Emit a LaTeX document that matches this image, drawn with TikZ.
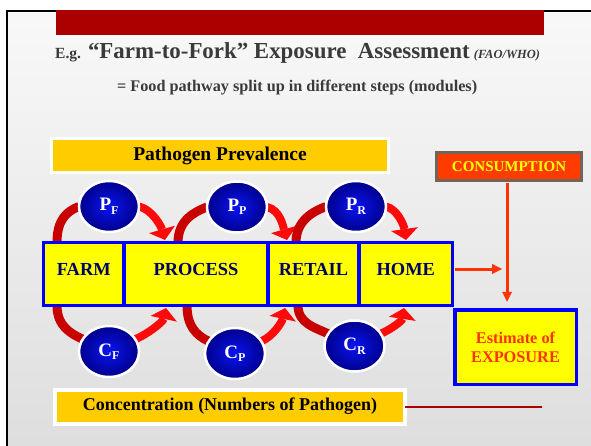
\documentclass[tikz,border=0pt]{standalone}
\usepackage{fontspec}
\setmainfont{Liberation Serif}
\usetikzlibrary{shapes.geometric,arrows.meta}

\definecolor{barred}{HTML}{AA0000}
\definecolor{titlegray}{HTML}{3A3A3A}
\definecolor{boxblue}{HTML}{0000FF}
\definecolor{boxyellow}{HTML}{FFFF00}
\definecolor{bandorange}{HTML}{FFCC00}
\definecolor{stepnavy}{HTML}{000066}
\definecolor{tailred}{HTML}{C80000}
\definecolor{headred}{HTML}{FF0A0A}
\definecolor{flowred}{HTML}{FF3300}
\definecolor{consfill}{HTML}{FF3C00}
\definecolor{consframe}{HTML}{766358}
\definecolor{ballin}{HTML}{0A14F0}
\definecolor{ballout}{HTML}{00008C}

\newcommand\setfs[1]{\fontsize{#1}{#1}\selectfont}
\newcommand\ballabel[2]{{\setfs{19}#1}{\setfs{12}\raisebox{-3.5pt}{#2}}}

\pgfdeclarelayer{back}
\pgfsetlayers{back,main}

\tikzset{
  stepbox/.style={draw=boxblue, line width=3.5pt, fill=boxyellow, inner sep=0pt,
    outer sep=0pt, minimum height=63pt, text depth=9pt, text=stepnavy,
    font=\bfseries\setfs{18.4}},
  band/.style={draw=white, line width=3.5pt, fill=bandorange, inner sep=0pt,
    outer sep=0pt, minimum height=34pt, font=\bfseries},
  ball/.style={ellipse, draw=white, line width=2.5pt, inner sep=0pt, outer sep=0pt,
    minimum width=60pt, minimum height=51pt, shading=radial, inner color=ballin,
    outer color=ballout, text=white, font=\bfseries},
  tailarc/.style={draw=tailred, line width=9pt},
  headarc/.style={draw=headred, line width=8pt,
    -{Triangle[length=11pt,width=27pt,line width=0pt]}},
  flow/.style={draw=flowred, line width=3pt,
    -{Triangle[length=10pt,width=10pt,line width=0pt]}},
}

\begin{document}
\begin{tikzpicture}[x=1pt,y=-1pt]
\useasboundingbox (0,0) rectangle (591,446);

% slide background, frame and header bar
\begin{pgfonlayer}{back}
  \fill[white] (0,0) rectangle (591,446);
  \shade[top color=gray!5, bottom color=gray!26] (7,11) rectangle (591,446);
  \draw[black, line width=2pt] (7,446) -- (7,11) -- (591,11);
  \fill[barred] (56,10) rectangle (544,35);
\end{pgfonlayer}

% headings
\node[anchor=base west, inner sep=0pt, text=titlegray, font=\bfseries] (title) at (55,59)
  {{\setfs{15.5}E.g.}\hspace{7pt}{\setfs{22.9}“Farm-to-Fork” Exposure\ \ Assessment}\hspace{4pt}{\setfs{12.5}\itshape(FAO/WHO)}};
\node[anchor=base west, inner sep=0pt, text=titlegray, font=\bfseries\setfs{16.2}] (subtitle) at (117,92)
  {= Food pathway split up in different steps (modules)};

% bands
\node[band, minimum width=337pt, font=\bfseries\setfs{19.5}] (prev) at (220,155.5) {Pathogen Prevalence};
\node[band, minimum width=350pt, text depth=6pt, font=\bfseries\setfs{18}] (conc) at (230,407) {Concentration (Numbers of Pathogen)};

% food pathway steps
\node[stepbox, minimum width=80.5pt] (farm) at (83.75,274) {FARM};
\node[stepbox, minimum width=144pt] (process) at (196,274) {PROCESS};
\node[stepbox, minimum width=91pt] (retail) at (313.5,274) {RETAIL};
\node[stepbox, minimum width=93.5pt] (home) at (405.75,274) {HOME};

% prevalence and concentration per module
\node[ball] (pf) at (109,206.5) {\ballabel{P}{F}};
\node[ball] (pp) at (237,207) {\ballabel{P}{P}};
\node[ball] (pr) at (356,206.5) {\ballabel{P}{R}};
\node[ball] (cf) at (109,351.5) {\ballabel{C}{F}};
\node[ball] (cp) at (235,353.5) {\ballabel{C}{P}};
\node[ball] (cr) at (354.5,346) {\ballabel{C}{R}};

% consumption and exposure
\node[draw=consframe, line width=3.5pt, fill=consfill, text=boxyellow, inner sep=0pt,
  outer sep=0pt, minimum width=145pt, minimum height=28pt, font=\bfseries\setfs{15}]
  (cons) at (509,166.5) {CONSUMPTION};
\node[draw=boxblue, line width=3.5pt, fill=boxyellow, text=flowred, inner sep=0pt,
  outer sep=0pt, minimum width=121.5pt, minimum height=74.5pt, align=center,
  font=\bfseries\setfs{16.3}] (expo) at (515.5,347)
  {Estimate of\\[2.5pt]EXPOSURE};

% module transitions (upper and lower)
\begin{pgfonlayer}{back}
  \draw[tailarc] ([xshift=13.5pt]farm.north west) .. controls +(0,-22) and +(-13,5) .. (pf.west);
  \draw[headarc] (pf.east) .. controls +(13,3) and +(-4,-14) .. ([shift={(41,-2.5)}]process.north west);
  \draw[tailarc] ([xshift=54pt]process.north west) .. controls +(0,-22) and +(-13,5) .. (pp.west);
  \draw[headarc] (pp.east) .. controls +(13,3) and +(-4,-14) .. ([shift={(19,-2.5)}]retail.north west);
  \draw[tailarc] ([xshift=28pt]retail.north west) .. controls +(0,-22) and +(-13,5) .. (pr.west);
  \draw[headarc] (pr.east) .. controls +(12,3) and +(-2,-14) .. ([shift={(47,-2.5)}]home.north west);

  \draw[tailarc] ([xshift=13.5pt]farm.south west) .. controls +(0,20) and +(-13,-6) .. (cf.155);
  \draw[headarc] (cf.25) .. controls +(12,-5) and +(-3,14) .. ([shift={(42,2.5)}]process.south west);
  \draw[tailarc] ([xshift=63pt]process.south west) .. controls +(0,20) and +(-13,-6) .. (cp.155);
  \draw[headarc] (cp.25) .. controls +(12,-5) and +(-3,14) .. ([shift={(17,2.5)}]retail.south west);
  \draw[tailarc] ([xshift=30pt]retail.south west) .. controls +(0,18) and +(-13,-6) .. (cr.155);
  \draw[headarc] (cr.25) .. controls +(11,-5) and +(-2,13) .. ([shift={(45,2.5)}]home.south west);
\end{pgfonlayer}

% flow to the exposure estimate
\draw[flow] ([shift={(2.5,-5)}]home.east) -- ([shift={(-7,-5)}]home.east -| cons.south);
\draw[flow] ([shift={(-2,3)}]cons.south) -- ([xshift=-2pt,yshift=8pt]cons.south |- expo.north);

% closing rule beside the concentration band
\draw[barred, line width=2pt] (conc.east) -- ++(137,0);
\end{tikzpicture}
\end{document}
